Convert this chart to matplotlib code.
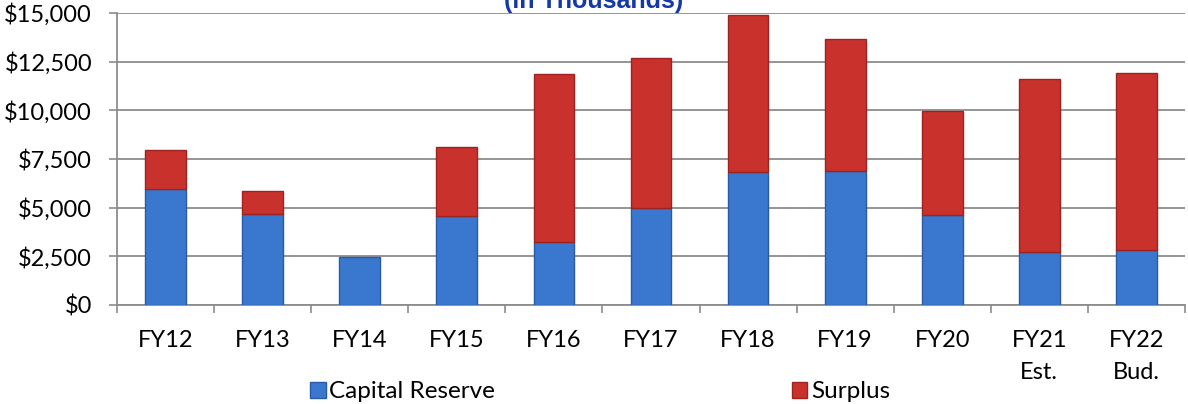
import matplotlib.pyplot as plt
import numpy as np

years = ['FY12', 'FY13', 'FY14', 'FY15', 'FY16', 'FY17', 'FY18', 'FY19', 'FY20',
         'FY21\nEst.', 'FY22\nBud.']
capital_reserve = [5950, 4650, 2450, 4550, 3250, 5000, 6850, 6900, 4600, 2700, 2800]
surplus = [2000, 1200, 0, 3550, 8600, 7700, 8050, 6750, 5350, 8900, 9100]
y_ticks = [0, 2500, 5000, 7500, 10000, 12500, 15000]


def main():
    plt.rcParams['font.family'] = ['Lato', 'DejaVu Sans']
    fig = plt.figure(figsize=(11.88, 4.04), dpi=100)
    ax = fig.add_axes([117 / 1188, 99 / 404, 1068 / 1188, 292 / 404])

    x = np.arange(len(years))
    grey = '#8c8c8c'

    # stacked bars (no outline where a segment is empty)
    ax.bar(x, capital_reserve, width=0.42, color='#3a78d0',
           edgecolor=['#2a5aa6' if v else 'none' for v in capital_reserve],
           linewidth=1, label='Capital Reserve', zorder=3)
    ax.bar(x, surplus, width=0.42, bottom=capital_reserve, color='#c9312c',
           edgecolor=['#9c2320' if v else 'none' for v in surplus],
           linewidth=1, label='Surplus', zorder=3)

    ax.set_xlim(-0.5, len(years) - 0.5)
    ax.set_ylim(0, 15000)

    # y axis
    ax.set_yticks(y_ticks)
    ax.set_yticklabels(['${:,}'.format(v) for v in y_ticks])
    ax.yaxis.grid(True, color=grey, linewidth=1.3, zorder=0)
    ax.tick_params(axis='y', length=6, width=1.2, color=grey, pad=12, labelsize=17)

    # x axis: labels at centres, tick marks between categories
    ax.set_xticks(x)
    ax.set_xticklabels(years, linespacing=1.65)
    ax.set_xticks(np.arange(len(years) + 1) - 0.5, minor=True)
    ax.tick_params(axis='x', which='major', length=0, pad=18, labelsize=17)
    ax.tick_params(axis='x', which='minor', length=6, width=1.2, color=grey)

    for side in ['right', 'top']:
        ax.spines[side].set_visible(False)
    for side in ['left', 'bottom']:
        ax.spines[side].set_color(grey)
        ax.spines[side].set_linewidth(1.3)

    # title, cut off at the top like the original
    fig.text(0.5, 1 - 8 / 404, '(in Thousands)', ha='center', va='baseline',
             fontsize=18, fontweight='bold', color='#1438a6',
             family=['Liberation Sans', 'DejaVu Sans'])

    # legend
    fig.legend(loc='center', bbox_to_anchor=(0.505, 1 - 392 / 404), ncol=2,
               frameon=False, fontsize=17.5, handlelength=0.65, handleheight=0.65,
               handletextpad=0.15, columnspacing=12.2)

    plt.savefig('out.png', dpi=100)


if __name__ == "__main__":
    main()
